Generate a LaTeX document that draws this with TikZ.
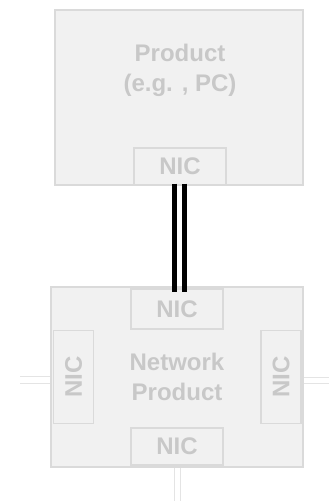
\documentclass[tikz,border=0pt]{standalone}
\usepackage{fontspec}
\setmainfont{Liberation Sans}
\definecolor{boxfill}{HTML}{F1F1F1}
\definecolor{boxline}{HTML}{DADADA}
\definecolor{txt}{HTML}{C8C8C8}
\definecolor{faint}{HTML}{E4E4E4}
\tikzset{
  prodbox/.style={draw=boxline, fill=boxfill, line width=1.5pt, inner sep=0pt, text=txt, align=center},
  nicbox/.style={draw=boxline, fill=boxfill, line width=1.2pt, inner sep=0pt, text=txt, font=\bfseries\fontsize{24}{26}\selectfont},
  label/.style={text=txt, align=center, font=\bfseries\fontsize{24}{30}\selectfont},
  cable/.style={line width=4.5pt, black},
  faintline/.style={faint, line width=1pt}
}
\begin{document}
\begin{tikzpicture}[x=1pt,y=-1pt]
\useasboundingbox (0,0) rectangle (329,501);
% top product
\node[prodbox, minimum width=248pt, minimum height=175pt] (prod) at (179,97.5) {};
\node[label] (prodtxt) at (180,70) {Product\\(e.g. , PC)};
\node[nicbox, minimum width=92pt, minimum height=37pt] (nicA) at (180,166.5) {NIC};
% bottom network product
\node[prodbox, minimum width=252pt, minimum height=180pt] (net) at (177,377) {};
\node[label] (nettxt) at (177,377) {Network\\Product};
\node[nicbox, minimum width=92pt, minimum height=40pt] (nicB) at (177,309) {NIC};
\node[nicbox, minimum width=92pt, minimum height=37pt] (nicD) at (177,446.5) {NIC};
\node[nicbox, minimum width=93pt, minimum height=40pt, rotate=90] (nicL) at (73.5,377) {NIC};
\node[nicbox, minimum width=93pt, minimum height=40pt, rotate=90] (nicR) at (281,377) {NIC};
% faint stubs
\coordinate (l1) at (20,376);
\coordinate (l2) at (20,383);
\coordinate (r1) at (329,377);
\coordinate (r2) at (329,383);
\coordinate (b1) at (174,501);
\coordinate (b2) at (180,501);
\draw[faintline] (l1) -- (l1 -| net.west);
\draw[faintline] (l2) -- (l2 -| net.west);
\draw[faintline] (r1) -- (r1 -| net.east);
\draw[faintline] (r2) -- (r2 -| net.east);
\draw[faintline] (b1) -- (b1 |- net.south);
\draw[faintline] (b2) -- (b2 |- net.south);
% cables
\draw[cable] ([xshift=-5.5pt,yshift=2pt]nicA.south) -- ([xshift=-5.5pt]nicA.south |- nicB.north) -- ++(0,4);
\draw[cable] ([xshift=4.5pt,yshift=2pt]nicA.south) -- ([xshift=4.5pt]nicA.south |- nicB.north) -- ++(0,4);
\end{tikzpicture}
\end{document}
